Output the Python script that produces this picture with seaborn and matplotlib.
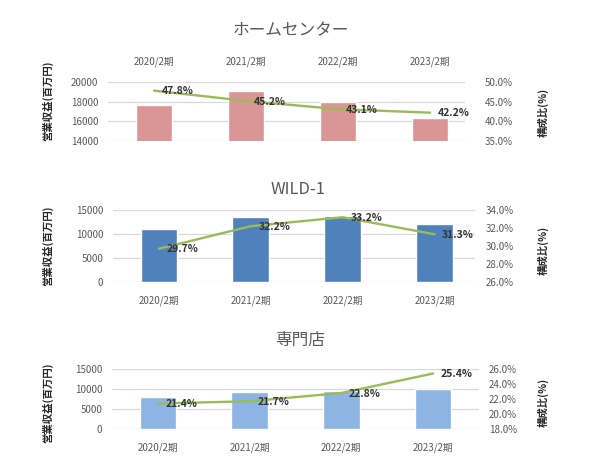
import matplotlib
matplotlib.use("Agg")
import matplotlib.pyplot as plt
import matplotlib.ticker as mticker
import seaborn as sns

# data
periods = ["2020/2期", "2021/2期", "2022/2期", "2023/2期"]

home_sales = [17700, 19100, 18000, 16300]
home_ratio = [47.8, 45.2, 43.1, 42.2]

wild_sales = [11000, 13600, 13800, 12100]
wild_ratio = [29.7, 32.2, 33.2, 31.3]

spec_sales = [7900, 9200, 9600, 10000]
spec_ratio = [21.4, 21.7, 22.8, 25.4]

titles = ["ホームセンター", "WILD-1", "専門店"]

sns.set_style("white")
plt.rcParams["font.family"] = ["Noto Sans CJK JP", "DejaVu Sans"]

W, H = 596, 462
GRAY = "#595959"
LINE = "#9BBB59"


def rect(x0, y0, x1, y1):
    # pixel box -> figure fraction
    return [x0 / W, 1 - y1 / H, (x1 - x0) / W, (y1 - y0) / H]


def draw_panel(fig, box, sales, ratio, bar_color, ylim, yticks, rlim, rticks,
               xlim, top_ticks, title, title_xy, ylab_y, rlab_y, rpad):
    ax = fig.add_axes(rect(*box))
    sns.barplot(x=periods, y=sales, color=bar_color, width=0.4, ax=ax,
                saturation=1)
    ax.set_ylim(*ylim)
    ax.set_yticks(yticks)
    ax.yaxis.grid(True, color="#D9D9D9", linewidth=0.9)
    ax.set_axisbelow(True)
    for s in ax.spines.values():
        s.set_visible(False)
    ax.tick_params(length=0, labelsize=7, labelcolor=GRAY)
    ax.tick_params(axis="y", pad=7)
    if top_ticks:
        ax.xaxis.tick_top()
        ax.tick_params(axis="x", pad=11)
    else:
        ax.tick_params(axis="x", pad=10)
    ax.set_xlabel("")
    ax.set_ylabel("")

    ax2 = ax.twinx()
    sns.lineplot(x=periods, y=ratio, color=LINE, linewidth=1.7, ax=ax2)
    ax2.set_ylim(*rlim)
    ax2.set_yticks(rticks)
    ax2.yaxis.set_major_formatter(mticker.FormatStrFormatter("%.1f%%"))
    for s in ax2.spines.values():
        s.set_visible(False)
    ax2.tick_params(length=0, labelsize=7, labelcolor=GRAY, pad=rpad)
    ax2.set_ylabel("")
    ax2.set_xlabel("")
    for i, v in enumerate(ratio):
        ax2.annotate(f"{v:.1f}%", xy=(i, v), xytext=(5.5, -0.5),
                     textcoords="offset points", ha="left", va="center",
                     fontsize=7.5, fontweight="bold", color="#333333")
    ax.set_xlim(*xlim)
    ax2.set_xlim(*xlim)

    fig.text(title_xy[0] / W, 1 - title_xy[1] / H, title, ha="center",
             va="center", fontsize=12, color=GRAY)
    fig.text(48 / W, 1 - ylab_y / H, "営業収益(百万円)", rotation=90,
             ha="center", va="center", fontsize=7.5, fontweight="bold",
             color="#262626")
    fig.text(543 / W, 1 - rlab_y / H, "構成比(%)", rotation=90,
             ha="center", va="center", fontsize=7.5, fontweight="bold",
             color="#262626")


fig = plt.figure(figsize=(5.96, 4.62), dpi=100)

draw_panel(fig, (108, 82, 465, 141), home_sales, home_ratio, "#D99694",
           (14000, 20000), [14000, 16000, 18000, 20000],
           (35, 50), [35, 40, 45, 50], (-0.5, 3.38), True,
           titles[0], (291, 31), 101, 112, 14)

draw_panel(fig, (113, 210, 475, 282), wild_sales, wild_ratio, "#4F81BD",
           (0, 15000), [0, 5000, 10000, 15000],
           (26, 34), [26, 28, 30, 32, 34], (-0.5, 3.44), False,
           titles[1], (298, 190), 246, 250, 8)

draw_panel(fig, (112, 369, 479, 429), spec_sales, spec_ratio, "#8DB4E2",
           (0, 15000), [0, 5000, 10000, 15000],
           (18, 26), [18, 20, 22, 24, 26], (-0.5, 3.5), False,
           titles[2], (300, 340), 403, 402, 7)

fig.savefig("out.png", dpi=100)
